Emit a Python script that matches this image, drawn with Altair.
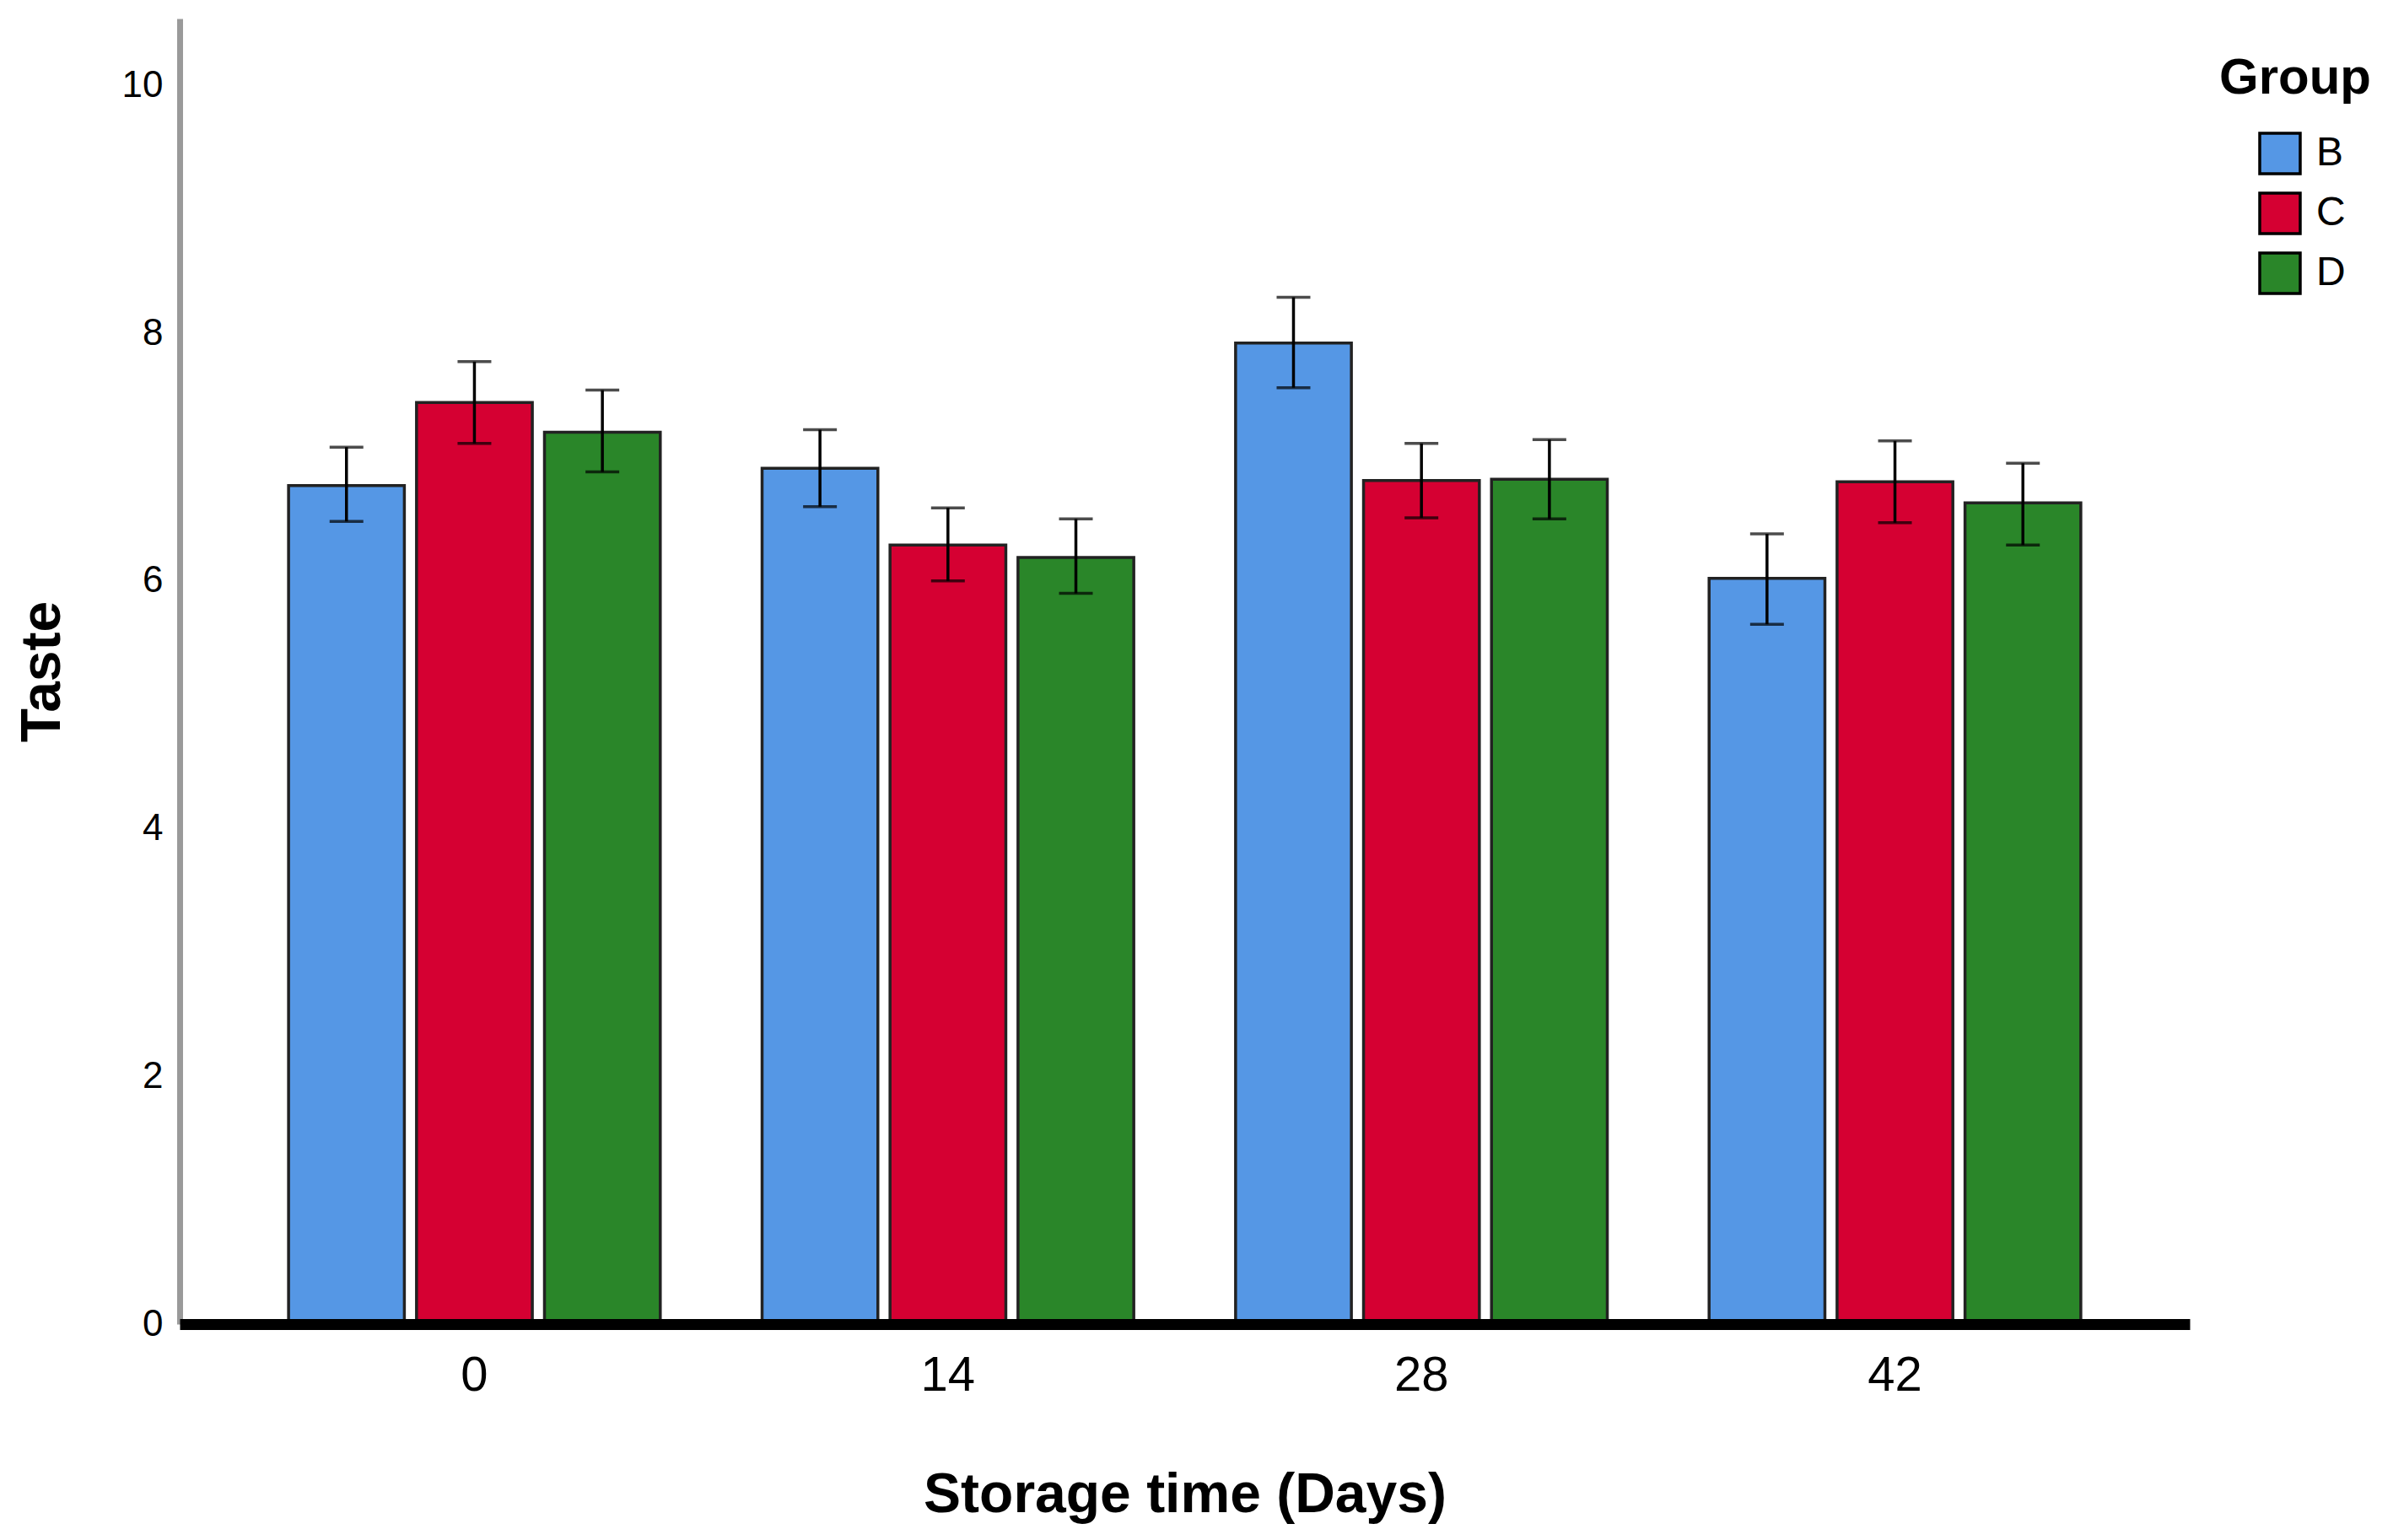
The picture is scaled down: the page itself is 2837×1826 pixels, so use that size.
import altair as alt
import pandas as pd

days = ["0", "14", "28", "42"]
groups = ["B", "C", "D"]
# mean values per day (rows) and group (cols)
means = {
    "B": [6.77, 6.91, 7.92, 6.02],
    "C": [7.44, 6.29, 6.81, 6.80],
    "D": [7.20, 6.19, 6.82, 6.63],
}
err_hi = {
    "B": [7.08, 7.22, 8.29, 6.38],
    "C": [7.77, 6.59, 7.11, 7.13],
    "D": [7.54, 6.50, 7.14, 6.95],
}
err_lo = {
    "B": [6.48, 6.60, 7.56, 5.65],
    "C": [7.11, 6.00, 6.51, 6.47],
    "D": [6.88, 5.90, 6.50, 6.29],
}
colors = ["#5597E5", "#D50032", "#2A8629"]
y_ticks = [0, 2, 4, 6, 8, 10]

rows = []
for g in groups:
    for i, d in enumerate(days):
        rows.append({"day": d, "group": g, "mean": means[g][i],
                     "lo": err_lo[g][i], "hi": err_hi[g][i]})
df = pd.DataFrame(rows)

FONT = "Liberation Sans"

x_enc = alt.X("day:N", sort=days,
              scale=alt.Scale(paddingInner=0.215, paddingOuter=0.23),
              axis=alt.Axis(title="Storage time (Days)", labelAngle=0, ticks=False,
                            domainColor="black", domainWidth=13, zindex=1,
                            labelFont=FONT, labelFontSize=58, labelColor="black",
                            labelPadding=32, titleFont=FONT, titleFontSize=66,
                            titleFontWeight="bold", titleColor="black", titlePadding=80))
xoff = alt.XOffset("group:N", sort=groups, scale=alt.Scale(paddingInner=0.095, paddingOuter=0))
y_scale = alt.Scale(domain=[0, 10.54], nice=False)

base = alt.Chart(df)

bars = base.mark_bar(stroke="#222222", strokeWidth=3.5).encode(
    x=x_enc,
    xOffset=xoff,
    y=alt.Y("mean:Q", scale=y_scale,
            axis=alt.Axis(title="Taste", values=y_ticks, format="d", ticks=False, grid=False,
                          domainColor="#9a9a9a", domainWidth=7,
                          labelFont=FONT, labelFontSize=44, labelColor="black",
                          labelPadding=20, titleFont=FONT, titleFontSize=66,
                          titleFontWeight="bold", titleColor="black", titlePadding=60)),
    color=alt.Color("group:N", sort=groups,
                    scale=alt.Scale(domain=groups, range=colors),
                    legend=alt.Legend(title="Group", orient="none", legendX=2418, legendY=42,
                                      symbolType="square", symbolSize=2304,
                                      symbolStrokeColor="black", symbolStrokeWidth=3.5,
                                      symbolOffset=46, labelOffset=17, rowPadding=9,
                                      labelFont=FONT, labelFontSize=48, labelColor="black",
                                      titleFont=FONT, titleFontSize=60, titleFontWeight="bold",
                                      titleColor="black", titlePadding=32, titleLimit=600)),
)

rule = base.mark_rule(color="black", strokeWidth=3.5).encode(
    x=alt.X("day:N", sort=days), xOffset=alt.XOffset("group:N", sort=groups),
    y=alt.Y("lo:Q"), y2="hi:Q",
)
cap_hi = base.mark_tick(color="black", size=40, thickness=3.5).encode(
    x=alt.X("day:N", sort=days), xOffset=alt.XOffset("group:N", sort=groups),
    y=alt.Y("hi:Q"),
)
cap_lo = base.mark_tick(color="black", size=40, thickness=3.5).encode(
    x=alt.X("day:N", sort=days), xOffset=alt.XOffset("group:N", sort=groups),
    y=alt.Y("lo:Q"),
)

chart = alt.layer(bars, rule, cap_hi, cap_lo).properties(
    width=2383, height=1548,
    background="white",
    autosize=alt.AutoSizeParams(type="none"),
    padding={"left": 205, "top": 14, "right": 233, "bottom": 248},
).configure_view(stroke=None, strokeWidth=0)

chart.save("out.html", embed_options={"renderer": "svg", "actions": False})
